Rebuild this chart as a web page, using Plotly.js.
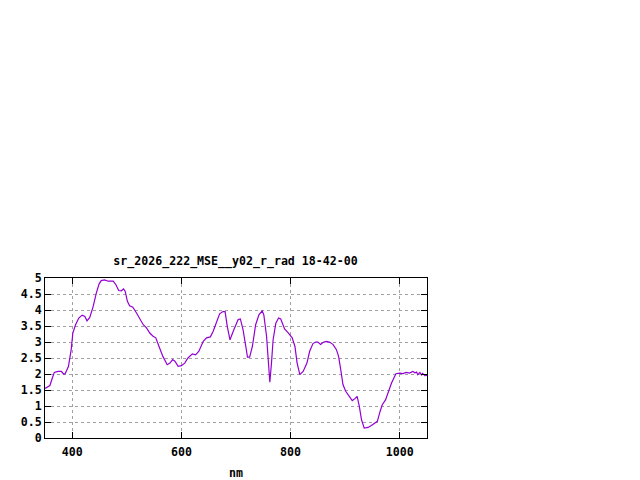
<!DOCTYPE html>
<html>
<head>
<meta charset="utf-8">
<script src="https://cdn.plot.ly/plotly-3.0.1.min.js"></script>
<style>
  html, body { margin: 0; padding: 0; background: #fff; }
  #chart { width: 640px; height: 480px; }
</style>
</head>
<body>
<div id="chart"></div>
<script>
// Spectrum
const wavelengthNm = [
  350, 355, 359, 363, 367, 374, 380, 384, 387, 393, 398, 401, 406, 412, 418, 423, 427, 432, 438, 444,
  449, 453, 459, 466, 475, 480, 485, 490, 494, 497, 501, 505, 511, 518, 524, 530, 536, 542, 548, 553,
  559, 566, 574, 579, 584, 588, 594, 600, 606, 612, 620, 626, 632, 640, 646, 653, 658, 664, 670, 676,
  680, 684, 689, 696, 704, 708, 713, 718, 721, 725, 730, 736, 742, 748, 751, 756, 759, 762, 765, 768,
  773, 778, 782, 789, 795, 803, 808, 812, 817, 823, 830, 835, 841, 846, 850, 855, 860, 866, 872, 878,
  884, 888, 892, 896, 901, 907, 913, 918, 922, 926, 930, 935, 942, 948, 954, 959, 964, 968, 974, 979,
  985, 993, 1000, 1006, 1012, 1018, 1024, 1028, 1031, 1033, 1037, 1040, 1042, 1046, 1050
];
const radiance = [
  1.55, 1.60, 1.64, 1.85, 2.05, 2.08, 2.08, 2.00, 2.01, 2.24, 2.76, 3.28, 3.54, 3.75, 3.84, 3.80, 3.66, 3.77, 4.09, 4.53,
  4.81, 4.92, 4.94, 4.90, 4.90, 4.79, 4.61, 4.60, 4.66, 4.58, 4.27, 4.13, 4.09, 3.90, 3.72, 3.54, 3.44, 3.28, 3.18, 3.13,
  2.86, 2.55, 2.29, 2.34, 2.45, 2.40, 2.24, 2.26, 2.34, 2.50, 2.63, 2.60, 2.71, 3.02, 3.13, 3.16, 3.33, 3.64, 3.88, 3.95,
  3.95, 3.49, 3.07, 3.38, 3.70, 3.72, 3.38, 2.86, 2.53, 2.53, 2.86, 3.54, 3.85, 3.97, 3.85, 3.18, 2.34, 1.74, 2.34, 3.07,
  3.59, 3.75, 3.72, 3.41, 3.30, 3.13, 2.86, 2.34, 1.98, 2.08, 2.34, 2.71, 2.95, 3.00, 3.00, 2.92, 2.99, 3.02, 2.99, 2.92,
  2.76, 2.55, 2.13, 1.67, 1.46, 1.32, 1.17, 1.23, 1.30, 0.99, 0.57, 0.31, 0.33, 0.39, 0.45, 0.52, 0.83, 1.04, 1.19, 1.46,
  1.72, 2.01, 2.03, 2.01, 2.05, 2.03, 2.08, 2.04, 2.06, 1.98, 2.05, 1.97, 2.02, 1.95, 1.96
];

const chartTitle = 'sr_2026_222_MSE__y02_r_rad 18-42-00';
const xLabel = 'nm';

const fontFace = '"DejaVu Sans Mono", "Liberation Mono", monospace';
const textFont = { family: fontFace, size: 11.6, color: '#000', weight: 'bold' };

const axisCommon = {
  showline: true,
  linecolor: '#000',
  linewidth: 1,
  mirror: 'ticks',
  ticks: 'inside',
  ticklen: 6,
  tickcolor: '#000',
  showgrid: true,
  gridcolor: '#a0a0a0',
  griddash: '3px,3px',
  gridwidth: 1,
  zeroline: false,
  tickfont: textFont
};

const traces = [{
  x: wavelengthNm,
  y: radiance,
  mode: 'lines',
  line: { color: '#9400d3', width: 1.2 },
  showlegend: false,
  hoverinfo: 'x+y'
}];

const layout = {
  width: 640,
  height: 480,
  paper_bgcolor: '#fff',
  plot_bgcolor: '#fff',
  margin: { l: 45, r: 213, t: 278, b: 42 },
  font: { family: fontFace, size: 11.6, color: '#000' },
  title: {
    text: chartTitle,
    font: textFont,
    x: 0.368, xanchor: 'center',
    y: 0.457, yanchor: 'middle'
  },
  xaxis: Object.assign({}, axisCommon, {
    range: [350, 1050],
    tick0: 400,
    dtick: 200,
    ticklabelstandoff: 3,
    title: { text: xLabel, font: textFont, standoff: 11 }
  }),
  yaxis: Object.assign({}, axisCommon, {
    range: [0, 5],
    dtick: 0.5,
    tick0: 0
  })
};

Plotly.newPlot('chart', traces, layout, { displayModeBar: false, staticPlot: true });
</script>
</body>
</html>
